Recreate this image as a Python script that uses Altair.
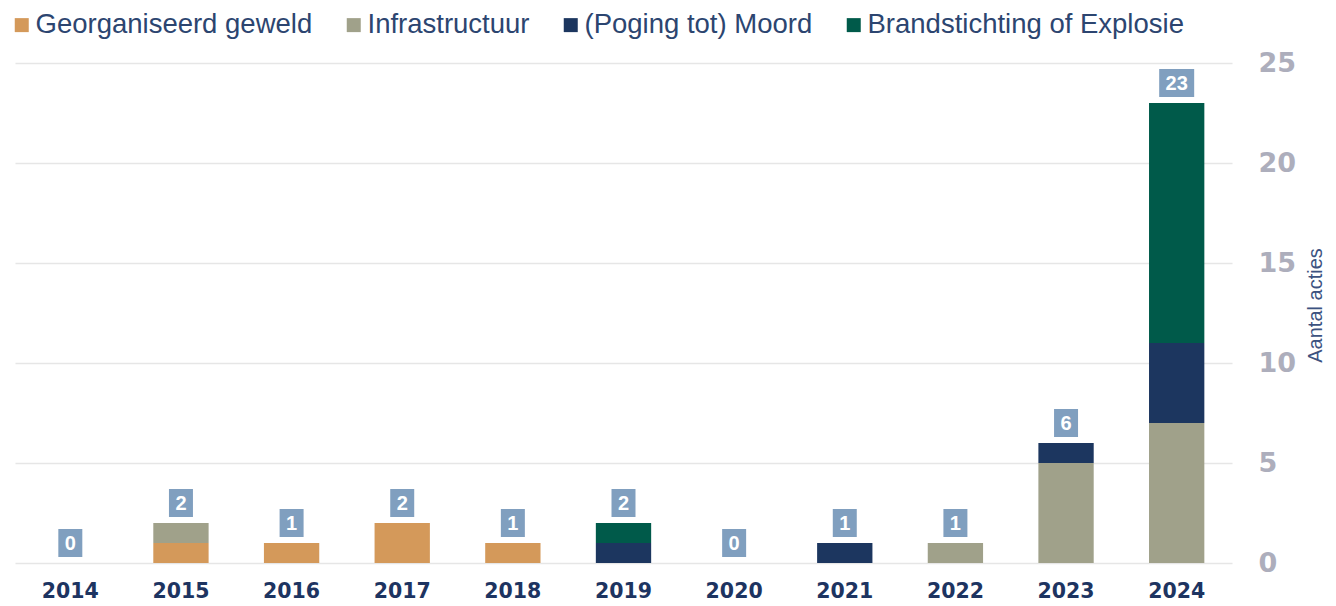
import altair as alt
import pandas as pd

years = [str(y) for y in range(2014, 2025)]
categories = ["Georganiseerd geweld", "Infrastructuur", "(Poging tot) Moord", "Brandstichting of Explosie"]
georganiseerd = [0, 1, 1, 2, 1, 0, 0, 0, 0, 0, 0]
infrastructuur = [0, 1, 0, 0, 0, 0, 0, 0, 1, 5, 7]
moord = [0, 0, 0, 0, 0, 1, 0, 1, 0, 1, 4]
brand = [0, 0, 0, 0, 0, 1, 0, 0, 0, 0, 12]
colors = ["#d4995a", "#a0a18a", "#1c365f", "#005a4a"]
y_ticks = [0, 5, 10, 15, 20, 25]

series = [georganiseerd, infrastructuur, moord, brand]
rows = []
for ci, (cat, vals) in enumerate(zip(categories, series)):
    for yr, v in zip(years, vals):
        rows.append({"jaar": yr, "categorie": cat, "aantal": v, "volgorde": ci})
df = pd.DataFrame(rows)
tot = pd.DataFrame({"jaar": years, "totaal": [sum(v) for v in zip(*series)]})
tot["label"] = tot["totaal"].astype(str)

NAVY = "#1d3461"
x_enc = alt.X(
    "jaar:N", sort=years,
    scale=alt.Scale(paddingInner=0.5, paddingOuter=0.25),
    axis=alt.Axis(title=None, labelAngle=0, labelFont="DejaVu Sans", labelFontWeight="bold",
                  labelFontSize=20.5, labelColor=NAVY, labelPadding=18, ticks=False, domain=False),
)

bars = alt.Chart(df).transform_filter("datum.aantal > 0").mark_bar().encode(
    x=x_enc,
    y=alt.Y("aantal:Q", stack="zero", scale=alt.Scale(domain=[0, 25], nice=False),
            axis=alt.Axis(orient="right", values=y_ticks, title="Aantal acties",
                          labelFont="DejaVu Sans", labelFontWeight="bold", labelFontSize=27,
                          labelColor="#adaebc", labelPadding=26, labelAlign="left",
                          labelBaseline="middle",
                          ticks=False, domain=False, grid=True, gridColor="#e6e6e6", gridWidth=1.5,
                          titleFont="Liberation Sans", titleFontSize=20, titleFontWeight="normal",
                          titleColor="#3c5280", titleAngle=270, titleX=83, titleY=242,
                          titleAlign="center", titleBaseline="middle")),
    color=alt.Color("categorie:N", scale=alt.Scale(domain=categories, range=colors),
                    legend=alt.Legend(title=None, orient="none", legendX=-7, legendY=-52,
                                      direction="horizontal", symbolType="square", symbolSize=196,
                                      symbolStrokeWidth=0, labelFont="Liberation Sans",
                                      labelFontSize=27.5, labelColor="#2c4570", labelOffset=0,
                                      columnPadding=27, padding=0, labelLimit=500)),
    order=alt.Order("volgorde:Q", sort="ascending"),
)

box1 = alt.Chart(tot).transform_filter("datum.totaal < 10").mark_point(
    shape="M-0.857,-1H0.857V1H-0.857Z", size=784, filled=True, color="#809fbf",
    opacity=1, yOffset=-20, strokeWidth=0,
).encode(x=alt.X("jaar:N", sort=years), y=alt.Y("totaal:Q"))

box2 = alt.Chart(tot).transform_filter("datum.totaal >= 10").mark_point(
    shape="M-1.25,-1H1.25V1H-1.25Z", size=784, filled=True, color="#809fbf",
    opacity=1, yOffset=-20, strokeWidth=0,
).encode(x=alt.X("jaar:N", sort=years), y=alt.Y("totaal:Q"))

labels = alt.Chart(tot).mark_text(
    color="white", font="Liberation Sans", fontWeight="bold", fontSize=20,
    baseline="middle", align="center", yOffset=-19,
).encode(x=alt.X("jaar:N", sort=years), y=alt.Y("totaal:Q"), text="label:N")

chart = alt.layer(bars, box1, box2, labels).properties(
    width=1217, height=500,
    background="white",
    autosize=alt.AutoSizeParams(type="none"),
    padding={"left": 7, "top": 55, "right": 96, "bottom": 42},
).configure_view(stroke=None, strokeWidth=0)

chart.save("out.html", embed_options={"renderer": "svg", "actions": False})
